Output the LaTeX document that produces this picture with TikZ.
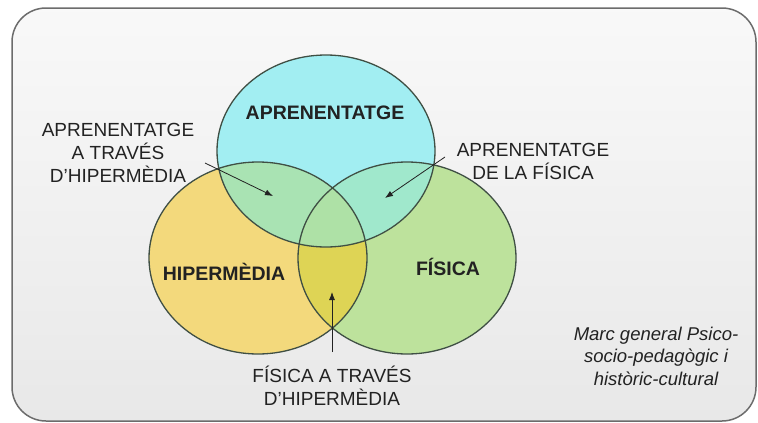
\documentclass[tikz,border=0pt]{standalone}
\usepackage{fontspec}
\setmainfont{Liberation Sans}
\usetikzlibrary{
		positioning,
		arrows.meta
	}
\tikzset{
		>={Latex[length=8pt,width=6pt]}
	}
\definecolor{aprCol}{HTML}{A2EEF2}
\definecolor{hipCol}{HTML}{F3D97C}
\definecolor{fisCol}{HTML}{BDE29C}
\definecolor{aprhipCol}{HTML}{A9E3B3}
\definecolor{aprfisCol}{HTML}{A0E8CC}
\definecolor{hipfisCol}{HTML}{DED455}
\definecolor{allCol}{HTML}{AEE1A6}
\definecolor{rimCol}{HTML}{3F4F44}
\definecolor{txtCol}{HTML}{222222}
\newcommand{\aprShape}{(326,151) ellipse [x radius=109, y radius=96]}
\newcommand{\hipShape}{(258,258) ellipse [x radius=109, y radius=96]}
\newcommand{\fisShape}{(407,258) ellipse [x radius=109, y radius=96]}

\begin{document}
\begin{tikzpicture}[x=1pt, y=-1pt,
					rim/.style={draw=rimCol, line width=1.3pt},
					title/.style={font=\fontsize{19.5}{23}\selectfont\bfseries, text=txtCol},
					label/.style={font=\fontsize{19}{23}\selectfont, text=txtCol, align=center, inner sep=0pt},
					pointer/.style={->, draw=txtCol, line width=0.8pt}]
		\useasboundingbox (0,0) rectangle (758,423);
		% marc exterior
		\draw[draw=gray!85!black, line width=1.5pt, rounded corners=34pt, top color=white!95!gray, bottom color=gray!18]
			(12,8) rectangle (756,421);
		% zones del diagrama
		\fill[aprCol] \aprShape;
		\fill[hipCol] \hipShape;
		\fill[fisCol] \fisShape;
		\begin{scope}
			\clip \aprShape;
			\fill[aprhipCol] \hipShape;
			\fill[aprfisCol] \fisShape;
		\end{scope}
		\begin{scope}
			\clip \hipShape;
			\clip \fisShape;
			\fill[hipfisCol] \aprShape \hipShape;
			\clip \aprShape;
			\fill[allCol] \hipShape;
		\end{scope}
		\draw[rim] \aprShape;
		\draw[rim] \hipShape;
		\draw[rim] \fisShape;
		% titols
		\node[title] (apr) at (325,113) {APRENENTATGE};
		\node[title] (hip) at (224,272) {HIPERMÈDIA};
		\node[title] (fis) at (448,267) {FÍSICA};
		% etiquetes
		\node[label] (aprhip) at (118,153) {APRENENTATGE\\A TRAVÉS\\D'HIPERMÈDIA};
		\node[label] (aprfis) at (533,161) {APRENENTATGE\\DE LA FÍSICA};
		\node[label] (fiship) at (332,386) {FÍSICA A TRAVÉS\\D'HIPERMÈDIA};
		\node[label, font=\fontsize{18.5}{22.5}\selectfont\itshape] (marc) at (656,356) {Marc general Psico-\\socio-pedagògic i\\històric-cultural};
		% fletxes
		\coordinate (aprhipTail) at (205,163);
		\coordinate (aprhipTip) at (273,196);
		\coordinate (aprfisTail) at (445,157);
		\coordinate (aprfisTip) at (385,198);
		\coordinate (fishipTail) at (332,352);
		\coordinate (fishipTip) at (332,292);
		\draw[pointer] (aprhipTail) -- (aprhipTip);
		\draw[pointer] (aprfisTail) -- (aprfisTip);
		\draw[pointer] (fishipTail) -- (fishipTip);
	\end{tikzpicture}
\end{document}
